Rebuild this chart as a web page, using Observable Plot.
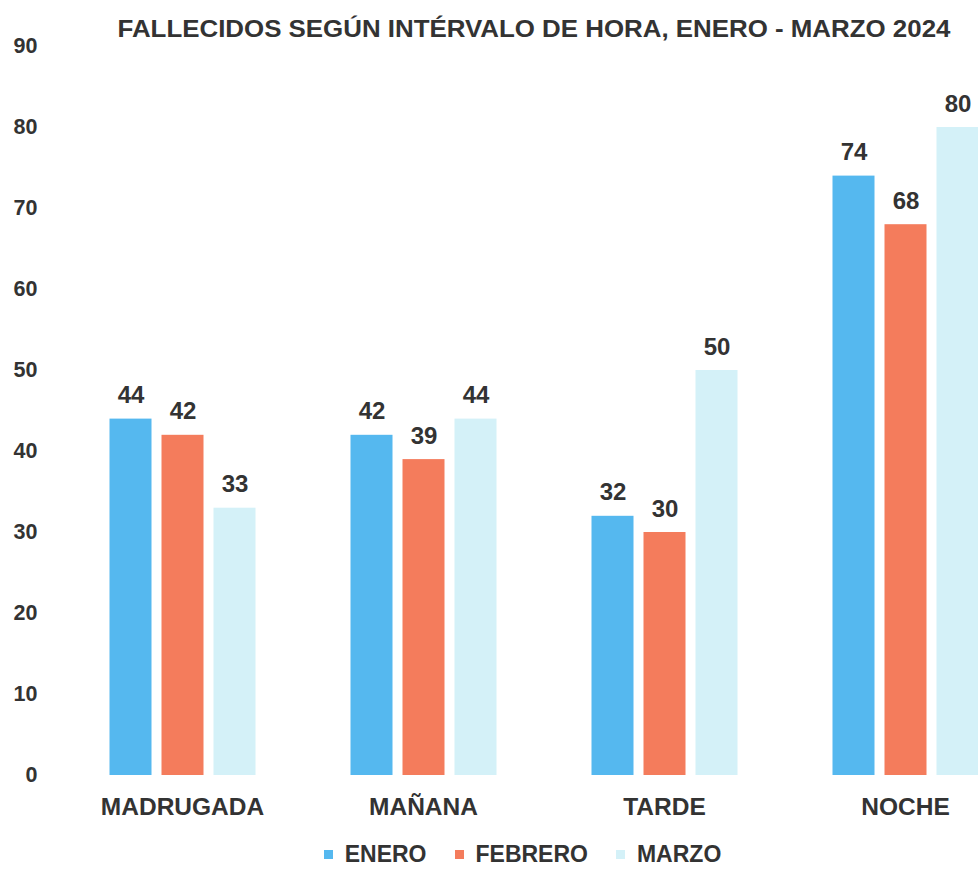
<!DOCTYPE html>
<html>
<head>
<meta charset="utf-8">
<script src="https://cdn.jsdelivr.net/npm/d3@7"></script>
<script src="https://cdn.jsdelivr.net/npm/@observablehq/plot@0.6"></script>
<style>
  html, body { margin: 0; padding: 0; background: #fff; overflow: hidden; }
  #wrap { position: relative; width: 978px; height: 869px; font-family: "Liberation Sans", Arial, sans-serif; }
  #title { position: absolute; box-sizing: border-box; left: 0; width: 978px; padding-left: 90px; top: 17px; line-height: 24px; text-align: center; font-weight: bold; font-size: 23px; color: #333; white-space: nowrap; transform: scaleX(1.125); transform-origin: 534px 0; }
  #legend { position: absolute; box-sizing: border-box; left: 0; width: 978px; padding-left: 67px; top: 844px; height: 21px; line-height: 21px; display: flex; justify-content: center; font-weight: bold; font-size: 23px; color: #333; white-space: nowrap; }
  #legend span.item { display: flex; align-items: center; margin: 0 14px; }
  #legend span.sw { display: inline-block; width: 9px; height: 9px; margin-right: 12px; }
</style>
</head>
<body>
<div id="wrap">
  <div id="chart"></div>
  <div id="title">FALLECIDOS SEGÚN INTÉRVALO DE HORA, ENERO - MARZO 2024</div>
  <div id="legend"></div>
</div>
<script>
const groups = ["MADRUGADA", "MAÑANA", "TARDE", "NOCHE"];
const months = ["ENERO", "FEBRERO", "MARZO"];
const enero = [44, 42, 32, 74];
const febrero = [42, 39, 30, 68];
const marzo = [33, 44, 50, 80];
const colors = ["#55b8ef", "#f47c5c", "#d4f1f8"];
const yTicks = [0, 10, 20, 30, 40, 50, 60, 70, 80, 90];

const series = [enero, febrero, marzo];
const data = [];
groups.forEach((g, i) => months.forEach((m, j) => data.push({group: g, month: m, value: series[j][i]})));

const chart = Plot.plot({
  width: 978,
  height: 869,
  marginTop: 46,
  marginBottom: 94,
  marginLeft: 101.5,
  marginRight: -7.5,
  style: {fontFamily: "Liberation Sans, Arial, sans-serif", overflow: "hidden", background: "#fff"},
  fx: {domain: groups, paddingInner: 0.343, paddingOuter: 0, label: null},
  x: {domain: months, paddingInner: 0.2, paddingOuter: 0.1, axis: null},
  y: {domain: [0, 90], label: null},
  color: {domain: months, range: colors},
  marks: [
    Plot.barY(data, {fx: "group", x: "month", y: "value", fill: "month"}),
    Plot.text(data, {fx: "group", x: "month", y: "value", text: d => String(d.value), dy: -16, lineAnchor: "bottom", fontSize: 24, fontWeight: "bold", fill: "#333"}),
    Plot.axisY({ticks: yTicks, tickSize: 0, tickPadding: 66, fontSize: 21.5, fontWeight: "bold", fill: "#333", label: null}),
    Plot.axisFx({anchor: "bottom", tickSize: 0, tickPadding: 22, fontSize: 24.5, fontWeight: "bold", fill: "#333", label: null})
  ]
});
document.getElementById("chart").appendChild(chart);

const legend = document.getElementById("legend");
months.forEach((m, j) => {
  const item = document.createElement("span");
  item.className = "item";
  const sw = document.createElement("span");
  sw.className = "sw";
  sw.style.background = colors[j];
  item.appendChild(sw);
  item.appendChild(document.createTextNode(m));
  legend.appendChild(item);
});
</script>
</body>
</html>
